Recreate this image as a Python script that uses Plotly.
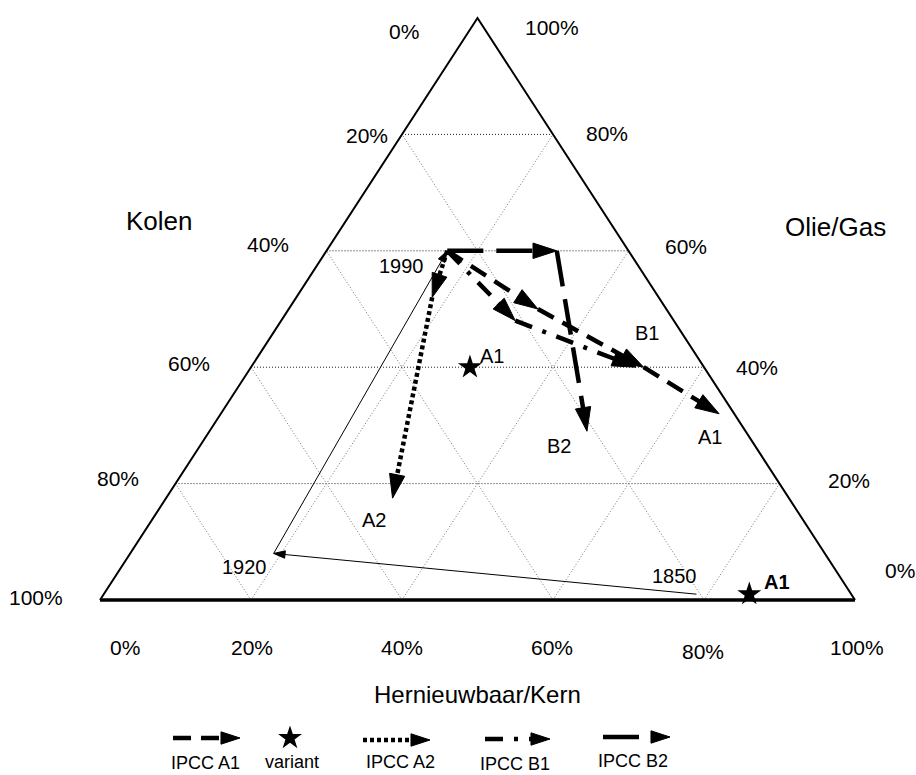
import plotly.graph_objects as go

FONT = "Liberation Sans, Arial, sans-serif"

# ---- data: shares in % (Kolen, Olie/Gas, Hernieuwbaar/Kern) ----
HIST_YEARS = ["1850", "1920", "1990"]
HIST_KOLEN = [20.5, 73, 24]
HIST_OLIE = [1, 8, 60]
HIST_HERN = [78.5, 19, 16]

A1_KOLEN = [24, 17, 8, 2]
A1_OLIE = [60, 50, 40, 32]
A1_HERN = [16, 33, 52, 66]

A2_KOLEN = [24, 30, 52.5]
A2_OLIE = [60, 52, 17.5]
A2_HERN = [16, 18, 30]

B1_KOLEN = [24, 21, 9]
B1_OLIE = [60, 48, 40]
B1_HERN = [16, 31, 51]

B2_KOLEN = [24, 9.5, 21]
B2_OLIE = [60, 60, 29]
B2_HERN = [16, 30.5, 50]

VARIANT_KOLEN = [31, 13.5]
VARIANT_OLIE = [40, 1]
VARIANT_HERN = [29, 85.5]
VARIANT_LABELS = ["A1", "<b>A1</b>"]

TICKS = [0, 20, 40, 60, 80, 100]
GRID = [20, 40, 60, 80]

SERIES_NAMES = ["IPCC A1", "variant", "IPCC A2", "IPCC B1", "IPCC B2"]


def to_xy(olie, hern):
    xs = [(h + o / 2) / 100 for o, h in zip(olie, hern)]
    ys = [o / 100 for o in olie]
    return xs, ys


fig = go.Figure()

# ---- grid ----
gx, gy = [], []
for v in GRID:
    x, y = to_xy([v, v], [0, 100 - v])
    gx += x + [None]
    gy += y + [None]
fig.add_trace(go.Scatter(x=gx, y=gy, mode="lines", hoverinfo="skip", showlegend=False,
                         line=dict(color="#222", width=1, dash="1px,2px")))
dx, dy = [], []
for v in GRID:
    x, y = to_xy([0, 100 - v], [v, v])          # constant Hernieuwbaar
    dx += x + [None]
    dy += y + [None]
    x, y = to_xy([0, 100 - v], [100 - v, 0])    # constant Kolen
    dx += x + [None]
    dy += y + [None]
fig.add_trace(go.Scatter(x=dx, y=dy, mode="lines", hoverinfo="skip", showlegend=False,
                         line=dict(color="#777", width=1, dash="1px,2px")))

# ---- triangle ----
tx, ty = to_xy([0, 0], [0, 100])
fig.add_trace(go.Scatter(x=tx, y=ty, mode="lines", hoverinfo="skip", showlegend=False,
                         line=dict(color="black", width=3.5)))
tx, ty = to_xy([0, 100, 0], [100, 0, 0])
fig.add_trace(go.Scatter(x=tx, y=ty, mode="lines", hoverinfo="skip", showlegend=False,
                         line=dict(color="black", width=2)))


def path(olie, hern, dash, width, size, xaxis="x", yaxis="y", xy=None):
    if xy is None:
        x, y = to_xy(olie, hern)
    else:
        x, y = xy
    n = len(x)
    return go.Scatter(
        x=x, y=y, mode="lines+markers", hoverinfo="skip", showlegend=False,
        xaxis=xaxis, yaxis=yaxis,
        line=dict(color="black", width=width, dash=dash),
        marker=dict(symbol="arrow", size=[0] + [size] * (n - 1), angleref="previous",
                    color="black", opacity=1, line=dict(width=1, color="black")),
    )


# historical path
fig.add_trace(path(HIST_OLIE, HIST_HERN, "solid", 1, 12))

DASH_A1 = "18px,10px"
DASH_A2 = "4px,3px"
DASH_B1 = "18px,11px,4px,11px"
DASH_B2 = "36px,13px"
ARROW = 25

fig.add_trace(path(A2_OLIE, A2_HERN, DASH_A2, 4.5, ARROW))
fig.add_trace(path(B2_OLIE, B2_HERN, DASH_B2, 4.5, ARROW))
fig.add_trace(path(B1_OLIE, B1_HERN, DASH_B1, 4.5, ARROW))
fig.add_trace(path(A1_OLIE, A1_HERN, DASH_A1, 4.5, ARROW))

# variants
vx, vy = to_xy(VARIANT_OLIE, VARIANT_HERN)
fig.add_trace(go.Scatter(x=vx, y=vy, mode="markers", hoverinfo="skip", showlegend=False,
                         marker=dict(symbol="star", size=18, color="black")))

ann = []


def label(text, x, y, dxp, dyp, size, xref="x", yref="y"):
    ann.append(dict(text=text, x=x, y=y, xref=xref, yref=yref, xshift=dxp, yshift=-dyp,
                    showarrow=False, font=dict(family=FONT, size=size, color="black"),
                    xanchor="center", yanchor="middle"))


# tick labels
KOLEN_OFF = [(-73.5, 13), (-35, 1), (-59, -6), (-62, -4), (-57.5, -5.6), (-64, -3)]
OLIE_OFF = [(45, -30), (69.5, -3), (53, 0), (57.5, -4), (54, -1), (74.5, 9)]
HERN_OFF = [(25, 47), (1, 47), (0, 47), (-1, 47), (-1, 51), (2, 47)]
for t, off in zip(TICKS, KOLEN_OFF):
    x, y = to_xy([100 - t], [0])
    label(f"{t}%", x[0], y[0], off[0], off[1], 21)
for t, off in zip(TICKS, OLIE_OFF):
    x, y = to_xy([t], [100 - t])
    label(f"{t}%", x[0], y[0], off[0], off[1], 21)
for t, off in zip(TICKS, HERN_OFF):
    x, y = to_xy([0], [t])
    label(f"{t}%", x[0], y[0], off[0], off[1], 21)

# point labels
hx, hy = to_xy(HIST_OLIE, HIST_HERN)
for yr, x, y, off in zip(HIST_YEARS, hx, hy, [(-22, -18), (-29, 14), (-46, 15)]):
    label(yr, x, y, off[0], off[1], 20)
for txt, ol, he, off in [("A1", A1_OLIE, A1_HERN, (-9, 23)), ("A2", A2_OLIE, A2_HERN, (-19, 22)),
                         ("B1", B1_OLIE, B1_HERN, (11, -34)), ("B2", B2_OLIE, B2_HERN, (-28, 15))]:
    x, y = to_xy(ol[-1:], he[-1:])
    label(txt, x[0], y[0], off[0], off[1], 20)
for txt, x, y, off in zip(VARIANT_LABELS, vx, vy, [(22, -11), (28, -12)]):
    label(txt, x, y, off[0], off[1], 20)

# axis titles (pixel layout coords)
label("Kolen", 159, 221, 0, 0, 26, "x2", "y2")
label("Olie/Gas", 835, 227, 0, 0, 26, "x2", "y2")
label("Hernieuwbaar/Kern", 477, 694, 0, 0, 24, "x2", "y2")

# legend (pixel layout coords)
LEG_X0 = [173, None, 363, 485, 603]
LEG_X1 = [240, None, 430, 550, 670]
LEG_Y = [738, 738, 740, 739, 737]
LEG_TX = [205, 292, 400, 515, 633]
LEG_TY = [763, 762, 762, 764, 761]
LEG_DASH = [DASH_A1, None, DASH_A2, DASH_B1, DASH_B2]
for name, x0, x1, ly, tx_, ty_, d in zip(SERIES_NAMES, LEG_X0, LEG_X1, LEG_Y, LEG_TX, LEG_TY, LEG_DASH):
    if x0 is None:
        fig.add_trace(go.Scatter(x=[tx_ - 2], y=[ly], xaxis="x2", yaxis="y2", mode="markers",
                                 hoverinfo="skip", showlegend=False,
                                 marker=dict(symbol="star", size=18, color="black")))
    else:
        fig.add_trace(path(None, None, d, 4.5, 20, "x2", "y2", xy=([x0, x1], [ly, ly])))
    label(name, tx_, ty_, 0, 0, 18, "x2", "y2")

fig.update_layout(
    width=916, height=775, autosize=False,
    margin=dict(l=0, r=0, t=0, b=0),
    paper_bgcolor="white", plot_bgcolor="white",
    xaxis=dict(range=[-100 / 755, 816 / 755], visible=False, fixedrange=True),
    yaxis=dict(range=[-175 / 582, 600 / 582], visible=False, fixedrange=True),
    xaxis2=dict(range=[0, 916], visible=False, overlaying="x", anchor="y2", fixedrange=True),
    yaxis2=dict(range=[775, 0], visible=False, overlaying="y", anchor="x2", fixedrange=True),
    annotations=ann,
    showlegend=False,
)

fig.write_html("out.html", config={"displayModeBar": False},
               post_script="document.body.style.margin='0';document.body.style.padding='0';")
